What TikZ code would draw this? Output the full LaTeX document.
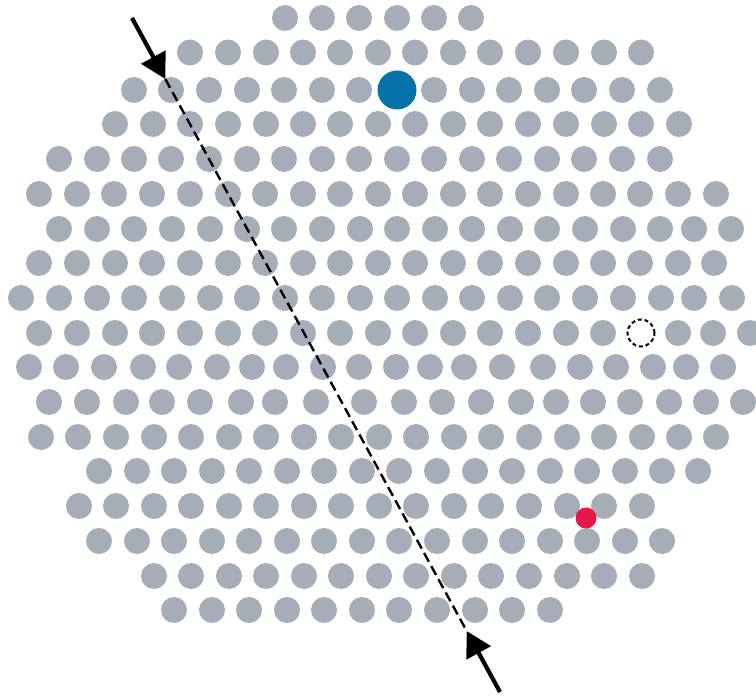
\documentclass[tikz,border=0pt]{standalone}
\usetikzlibrary{arrows.meta,calc}
\definecolor{dotgray}{RGB}{165,173,185}
\definecolor{dotblue}{RGB}{6,115,168}
\definecolor{dotred}{RGB}{232,23,74}
\tikzset{
  gdot/.style={fill=dotgray},
  bigdot/.style={fill=dotblue},
  reddot/.style={fill=dotred},
  holedot/.style={draw=black,line width=2pt,dash pattern=on 4pt off 2.8pt},
  arrowshaft/.style={draw=black,line width=4.2pt,-{Triangle[length=25pt,width=27pt]}},
  cutline/.style={draw=black,line width=2.4pt,dash pattern=on 10pt off 5pt}
}
\begin{document}
\begin{tikzpicture}[x=1pt,y=-1pt]
\clip (0,0) rectangle (756,698);
\fill[white] (0,0) rectangle (756,698);
% rows of grey circles: {y/x list}
\foreach \yy/\xs in {
 18/{285,322,359,397,434,471},
 52.5/{190,228,266,303,340,378,415,453,490,528,566,604,641},
 90/{134,171,209,247,284,322,359,434,472,509,547,584,622,660},
 124/{115,153,190,228,266,303,340,378,415,453,490,528,566,604,641,679},
 159/{59,97,134,171,209,247,284,322,359,397,434,472,509,547,584,622,660},
 194/{39,77,114,152,190,228,265,303,340,378,415,453,490,528,566,603,640,678,716},
 229/{59,97,134,172,210,247,284,322,360,397,435,472,510,547,585,623,660,694,731},
 263/{39,77,115,152,190,228,265,303,340,378,415,453,490,528,566,603,640,678,714},
 298/{21,59,97,134,172,210,247,285,322,360,397,435,472,510,547,585,623,661,694,732},
 333/{39,77,115,152,190,228,265,303,340,378,415,453,490,528,566,603,678,713,750},
 367/{29,66,104,143,179,217,252,286,323,359,396,430,464,502,543,580,616,653,686,723},
 402/{49,87,126,162,200,241,275,316,364,404,442,481,521,556,593,630,669,706,743},
 437/{41,78,116,154,191,229,266,304,341,379,416,454,491,529,567,604,642,679,716},
 471/{99,137,174,212,249,287,324,362,399,437,475,512,550,587,625,662,698},
 506/{79,116,154,191,229,266,304,341,379,416,454,491,529,567,604,642},
 541/{99,137,174,212,249,287,324,362,399,437,475,512,550,587,625,662},
 576/{154,191,229,266,304,341,379,416,454,491,529,567,604,642},
 610/{174,212,249,287,324,362,399,437,475,512,550}}{
  \foreach \xx in \xs {
    \path[gdot] (\xx,\yy) circle[radius=13pt];
  }
}
% special sites
\path[bigdot] (397,90) circle[radius=19.5pt];
\path[reddot] (586,518) circle[radius=10.5pt];
\path[holedot] (641,333) circle[radius=13.5pt];
% cut line with arrows
\coordinate (start) at (132,18);
\coordinate (finish) at (500,692);
\coordinate (tipA) at ($(start)!0.0905!(finish)$);
\coordinate (tipB) at ($(start)!0.9095!(finish)$);
\path[cutline] (tipA) -- (tipB);
\path[arrowshaft] (start) -- (tipA);
\path[arrowshaft] (finish) -- (tipB);
\end{tikzpicture}
\end{document}
